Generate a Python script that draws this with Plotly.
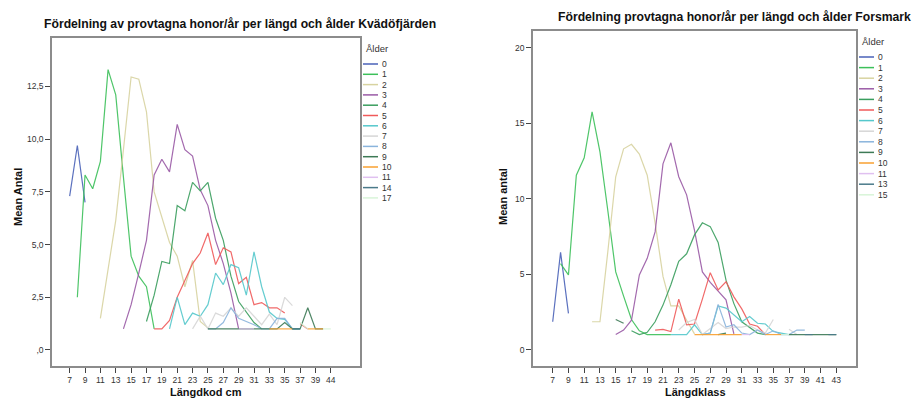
import plotly.graph_objects as go

W, H = 916, 400

# ---------------- data: Kvädöfjärden (left) ----------------
kv_lengths = list(range(7, 41)) + [44]
kv_ticks = list(range(7, 40, 2)) + [44]
kv_ages = ["0", "1", "2", "3", "4", "5", "6", "7", "8", "9", "10", "11", "14", "17"]

kv_a0 = (7, [7.3, 9.7, 7.0])
kv_a1 = (8, [2.5, 8.3, 7.65, 8.95, 13.3, 12.1, 8.2, 4.45, 3.5, 3.0, 1.0])
kv_a2 = (11, [1.5, 3.8, 6.15, 9.5, 12.95, 12.85, 11.3, 7.5, 6.3, 5.1, 4.45, 3.0, 4.25, 1.35, 1.05])
kv_a3 = (14, [1.0, 2.15, 3.65, 5.2, 8.3, 9.05, 8.45, 10.7, 9.5, 9.2, 7.6, 6.85, 5.2, 4.1, 2.7, 1.0])
kv_a4 = (17, [1.35, 2.6, 4.2, 4.1, 6.85, 6.6, 7.95, 7.55, 7.95, 6.25, 5.2, 3.5, 2.3, 1.8, 1.3, 1.0])
kv_a5 = (18, [1.0, 1.0, 1.4, 2.5, 3.3, 4.1, 4.6, 5.55, 4.05, 4.85, 4.65, 3.15, 3.45, 2.15, 2.25,
              2.0, 2.0, 1.75, None, 1.25, 1.0])
kv_a6 = (20, [1.0, 2.5, 1.2, 1.75, 1.6, 2.15, 3.65, 3.1, 4.05, 3.9, 2.6, 4.65, 3.0, 1.8, 1.5, 1.45, 1.0, 1.0])
kv_a7 = (23, [1.0, 1.6, 1.0, 1.75, 1.6, 2.0, 1.6, 2.0, 1.6, 1.2, 1.7, 1.2, 2.5, 2.1])
kv_a8 = (25, [1.0, 1.0, 1.3, 2.0, 1.5, 1.35, 1.2, 1.0, 1.0, 1.5, 1.5, 1.0, 1.0])
kv_a9 = (25, [1.0, 1.0, 1.0, 1.0, 1.0, 1.0, 1.0, 1.0, 1.0, 1.0, 1.3, 1.0, 1.0, 2.0, 1.0, 1.0])
kv_a10 = (33, [1.0, 1.0, 1.0, 1.0, None, 1.0, 1.0, 1.0])
kv_a11 = (29, [1.0, 1.0, 1.0])
kv_a14 = (36, [1.0, 1.0])
kv_a17 = (37, [1.3, 1.0, None, 1.0, 1.0])
kv_series = [kv_a0, kv_a1, kv_a2, kv_a3, kv_a4, kv_a5, kv_a6, kv_a7, kv_a8, kv_a9,
             kv_a10, kv_a11, kv_a14, kv_a17]
kv_yticks = [0, 2.5, 5, 7.5, 10, 12.5]
kv_yticktext = [",0", "2,5", "5,0", "7,5", "10,0", "12,5"]

# ---------------- data: Forsmark (right) ----------------
fm_lengths = list(range(7, 44))
fm_ticks = list(range(7, 44, 2))
fm_ages = ["0", "1", "2", "3", "4", "5", "6", "7", "8", "9", "10", "11", "13", "15"]

fm_a0 = (7, [1.85, 6.45, 2.4])
fm_a1 = (8, [5.7, 4.95, 11.55, 12.7, 15.75, 13.1, 9.2, 5.15, 3.55, 2.0, 1.25, 1.0, 1.0, 1.0, 1.0])
fm_a2 = (12, [1.85, 1.85, 6.5, 11.45, 13.3, 13.6, 12.95, 11.55, 8.4, 4.85, 2.9, 2.9, 1.95, 1.05])
fm_a3 = (15, [1.0, 1.3, 1.95, 4.95, 6.05, 7.8, 12.3, 13.7, 11.45, 10.25, 7.9, 5.15, 4.45, 3.85, 3.3, 1.05])
fm_a4 = (17, [1.25, 1.0, 1.15, 1.85, 2.95, 4.3, 5.85, 6.35, 7.6, 8.4, 8.15, 7.1, 4.6, 3.05, 1.85,
              1.45, 1.1, 1.0])
fm_a5 = (20, [1.3, 1.35, 1.2, 3.35, 1.65, 1.7, 3.35, 5.1, 3.95, 4.5, 3.5, 2.7, 1.7, 1.55, 1.0])
fm_a6 = (22, [1.0, 1.0, 1.0, 1.65, 1.0, 1.1, 2.9, 2.75, 2.3, 1.85, 2.2, 1.75, 1.7, 1.2, 1.1, 1.0])
fm_a7 = (23, [1.3, 1.8, 2.0, 1.0, 1.4, 1.8, 1.4, 1.5, 1.5, 1.6, 1.3, 1.1, 2.0, None, 1.35, 1.0])
fm_a8 = (26, [1.0, 1.1, 3.0, 1.5, 1.65, 1.1, 1.0, 1.3, 1.0, 1.25, 1.0, 1.0, 1.3, 1.3])
fm_a9 = (15, [2.0, 1.75, None, None, None, None, None, None, None, None, None, None, None,
              1.0, 1.1, None, None, None, None, None, None, None, 1.0, 1.0, 1.0, 1.0, 1.0, 1.0, 1.0])
fm_a10 = (25, [1.0, 1.0, 1.0, 1.0, 1.0, 1.0, 1.0, None, None, 1.0, 1.0, 1.0])
fm_a11 = (31, [1.0, 1.0])
fm_a13 = (39, [1.0, 1.0, None, 1.0, 1.0])
fm_a15 = (36, [1.0, 1.0])
fm_series = [fm_a0, fm_a1, fm_a2, fm_a3, fm_a4, fm_a5, fm_a6, fm_a7, fm_a8, fm_a9,
             fm_a10, fm_a11, fm_a13, fm_a15]
fm_yticks = [0, 5, 10, 15, 20]

# ---------------- styling ----------------
age_colors = ["#4a62b8", "#3cc05a", "#d8d3a0", "#9a5aa6", "#3a9e5e", "#f05a5a", "#55c8cc",
              "#d6d6d6", "#8ab4dc", "#3d7a56", "#f8a030", "#e0c0f0", "#4a7a8a", "#d8f5d8"]
FONT = "Liberation Sans, Arial, sans-serif"
TXT = "#333333"

fig = go.Figure()


def add_series(series, cats, xaxis, yaxis, as_str):
    for (start, vals), col in zip(series, age_colors):
        i0 = cats.index(start)
        xs = cats[i0:i0 + len(vals)]
        if as_str:
            xs = [str(c) for c in xs]
        fig.add_trace(go.Scatter(x=xs, y=vals, mode="lines", xaxis=xaxis, yaxis=yaxis,
                                 line=dict(color=col, width=1.2), opacity=0.9,
                                 connectgaps=False, showlegend=False, hoverinfo="skip"))


add_series(kv_series, kv_lengths, "x", "y", True)
add_series(fm_series, fm_lengths, "x2", "y2", False)

axis_common = dict(showline=True, mirror=True, linecolor="#8c8c8c", linewidth=1.5,
                   showgrid=False, zeroline=False, ticks="outside", ticklen=5,
                   tickcolor="#444", tickwidth=1,
                   tickfont=dict(family=FONT, size=8.5, color=TXT))

fig.update_layout(
    width=W, height=H, margin=dict(l=0, r=0, t=0, b=0),
    paper_bgcolor="white", plot_bgcolor="white", showlegend=False,
    xaxis=dict(domain=[52 / W, 360 / W], type="category",
               categoryorder="array", categoryarray=[str(c) for c in kv_lengths],
               tickmode="array", tickvals=[str(c) for c in kv_ticks],
               ticktext=[str(c) for c in kv_ticks], range=[-2.3, 37.8], **axis_common),
    yaxis=dict(domain=[(H - 366) / H, (H - 38) / H], range=[-0.76, 14.8],
               tickmode="array", tickvals=kv_yticks, ticktext=kv_yticktext, **axis_common),
    xaxis2=dict(domain=[533 / W, 856 / W], anchor="y2", range=[4.5, 45.5],
                tickmode="array", tickvals=fm_ticks, **axis_common),
    yaxis2=dict(domain=[(H - 366) / H, (H - 31) / H], anchor="x2", range=[-1.08, 21.1],
                tickmode="array", tickvals=fm_yticks, **axis_common),
)

ann = []
shapes = []


def text(x, y, s, size, bold=False, angle=0, xanchor="center", color=TXT):
    ann.append(dict(x=x / W, y=1 - y / H, xref="paper", yref="paper", text=f"<b>{s}</b>" if bold else s,
                    showarrow=False, xanchor=xanchor, yanchor="middle", textangle=angle,
                    font=dict(family=FONT, size=size, color=color)))


text(240, 24, "Fördelning av provtagna honor/år per längd och ålder Kvädöfjärden", 12.2, True, color="#111")
text(734, 17, "Fördelning provtagna honor/år per längd och ålder Forsmark", 12.2, True, color="#111")
text(206, 392, "Längdkod cm", 11, True, color="#111")
text(695, 392, "Längdklass", 11, True, color="#111")
text(18, 197, "Mean Antal", 11, True, angle=-90, color="#111")
text(503, 197, "Mean antal", 11, True, angle=-90, color="#111")


def legend(ages, x_line, y_title, y0, step):
    text(x_line + 1, y_title, "Ålder", 9.5, xanchor="left")
    for k, (lab, col) in enumerate(zip(ages, age_colors)):
        yy = 1 - (y0 + step * k) / H
        shapes.append(dict(type="line", xref="paper", yref="paper", x0=x_line / W,
                           x1=(x_line + 15) / W, y0=yy, y1=yy,
                           line=dict(color=col, width=1.5)))
        text(x_line + 17, y0 + step * k, lab, 8.5, xanchor="left")


legend(kv_ages, 363, 48, 64, 10.3)
legend(fm_ages, 859, 42, 57, 10.6)

fig.update_layout(annotations=ann, shapes=shapes)
fig.write_html("out.html", config={"displayModeBar": False},
               post_script="document.body.style.margin='0';document.body.style.overflow='hidden';")
